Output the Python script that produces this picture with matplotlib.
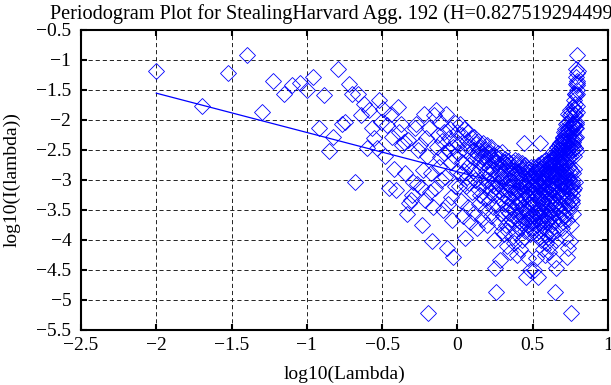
import numpy as np
import matplotlib
matplotlib.use("Agg")
import matplotlib.pyplot as plt
from matplotlib.ticker import FuncFormatter

plt.rcParams['font.family'] = ['Liberation Serif', 'DejaVu Serif']

# periodogram, log10 values for k = 1..314 (lambda = 2*pi*k/N)
N = 628
logI_half = [
    # k 1-32
    -1.18, -1.76, -1.22, -0.92, -1.87, -1.35, -1.56, -1.42, -1.39, -1.50,
    -1.29, -2.14, -1.58, -2.52, -2.29, -1.15, -2.06, -2.03, -1.40, -1.56,
    -3.03, -1.56, -1.91, -1.73, -2.46, -1.84, -2.14, -2.30, -2.46, -1.67,
    -2.03, -1.81,
    # k 33-100
    -2.60, -2.09, -3.14, -1.90, -2.28, -2.81, -3.17, -1.79, -2.20, -2.06,
    -2.42, -2.37, -2.89, -3.56, -2.34, -3.39, -3.33, -3.25, -3.03, -2.14,
    -2.06, -3.06, -2.50, -2.42, -3.11, -3.75, -2.84, -1.90, -3.33, -2.30,
    -2.60, -5.22, -2.14, -3.20, -2.89, -4.01, -3.45, -1.92, -3.14, -1.84,
    -2.45, -2.25, -2.78, -2.03, -2.62, -3.00, -2.35, -3.50, -2.20, -2.55,
    -2.95, -1.90, -4.14, -2.50, -3.40, -2.30, -2.15, -3.28, -2.70, -3.67,
    -2.45, -4.29, -2.60, -2.05, -3.10, -2.35, -2.85, -2.20,
    # k 101-200
    -2.55, -3.10, -2.40, -2.06, -2.90, -3.35, -2.25, -2.70, -3.60, -2.15,
    -2.85, -3.97, -2.50, -3.10, -2.35, -2.95, -3.45, -2.20, -2.75, -3.05,
    -2.45, -3.70, -2.60, -2.30, -3.20, -2.85, -2.50, -2.28, -3.55, -2.65,
    -3.00, -2.40, -2.90, -3.80, -2.55, -2.35, -3.15, -2.70, -3.40, -2.50,
    -2.80, -3.25, -2.45, -3.05, -2.62, -3.65, -2.38, -2.95, -3.30, -2.58,
    -2.72, -3.50, -2.48, -3.10, -2.85, -2.42, -3.75, -2.68, -3.00, -2.55,
    -3.35, -2.78, -2.52, -3.20, -2.90, -3.60, -2.60, -2.45, -3.08, -2.82,
    -3.45, -2.66, -2.98, -4.00, -2.58, -3.25, -2.72, -4.47, -3.12, -2.62,
    -4.86, -2.88, -3.40, -2.70, -3.05, -2.55, -3.70, -2.92, -3.18, -2.64,
    -3.30, -4.33, -2.80, -3.55, -2.75, -3.02, -2.53, -3.85, -2.90, -3.15,
    # k 201-314
    -2.95, -3.60, -2.70, -3.25, -3.90, -2.85, -3.40, -2.65, -3.15, -3.75,
    -3.05, -2.75, -3.50, -4.10, -2.90, -3.30, -2.68, -3.85, -3.10, -2.80,
    -3.55, -3.20, -2.72, -4.20, -3.00, -3.45, -2.88, -3.65, -3.12, -2.78,
    -3.95, -3.35, -2.70, -3.08, -3.70, -2.92, -3.48, -4.05, -2.83, -3.22,
    -3.60, -2.66, -3.28, -3.88, -2.98, -3.42, -2.74, -3.15, -4.25, -3.02,
    -2.86, -3.58, -3.18, -2.69, -3.80, -3.35, -2.95, -3.68, -3.05, -4.15,
    -2.78, -3.38, -3.00, -3.72, -2.90, -3.52, -3.25, -2.72, -4.00, -3.12,
    -3.45, -2.84, -3.62, -3.08, -3.95, -2.80, -2.39, -3.30, -3.70, -2.96,
    -3.20, -3.85, -2.75, -3.48, -3.10, -4.62, -2.88, -3.58, -3.25, -3.02,
    -3.75, -2.82, -3.40, -3.15, -4.30, -2.92, -3.55, -3.05, -3.68, -2.86,
    -3.32, -3.90, -2.98, -4.50, -3.22, -2.78, -3.60, -3.12, -3.80, -2.94,
    -3.42, -3.08, -3.70, -3.18,
]

H = 0.827519294499
fit_intercept = -2.863

title = "Periodogram Plot for StealingHarvard Agg. 192 (H=0.82751929449936)"

# periodogram of a real series is symmetric: I(2*pi - lambda) = I(lambda)
logI = np.array(logI_half + logI_half[:N // 2 - 1][::-1])
k = np.arange(1, len(logI) + 1)
loglam = np.log10(2 * np.pi * k / N)

fit_x = np.array([loglam[0], np.log10(np.pi)])
fit_y = fit_intercept + (1 - 2 * H) * fit_x

fig = plt.figure(figsize=(6.11, 3.85), dpi=100)
ax = fig.add_axes([81 / 611, 55 / 385, 527 / 611, 300 / 385])

ax.plot(loglam, logI, 'D', ms=7.8, mfc='none', mec='#0000ff', mew=0.6, ls='none')
ax.plot(fit_x, fit_y, '-', color='#0000ff', lw=0.9)

ax.set_xlim(-2.5, 1)
ax.set_ylim(-5.5, -0.5)
ax.set_xticks(np.arange(-2.5, 1.01, 0.5))
ax.set_yticks(np.arange(-5.5, -0.49, 0.5))
fmt = FuncFormatter(lambda v, p: ('%g' % round(v, 2)).replace('-', '\u2212'))
ax.xaxis.set_major_formatter(fmt)
ax.yaxis.set_major_formatter(fmt)

ax.grid(True, color='black', ls=(0, (5, 3.5)), lw=0.6)
for s in ax.spines.values():
    s.set_linewidth(1.5)
ax.tick_params(direction='in', top=True, right=True, length=4, width=1.5,
               labelsize=14)
ax.tick_params(axis='x', pad=5)
ax.tick_params(axis='y', pad=7)

ax.set_title(title, fontsize=14.6, pad=8)
ax.set_xlabel('log10(Lambda)', fontsize=14)
ax.set_ylabel('log10(I(lambda))', fontsize=14)
ax.xaxis.set_label_coords(0.5, -0.118)
ax.yaxis.set_label_coords(-0.115, 0.5)

fig.savefig('out.png', dpi=100)
